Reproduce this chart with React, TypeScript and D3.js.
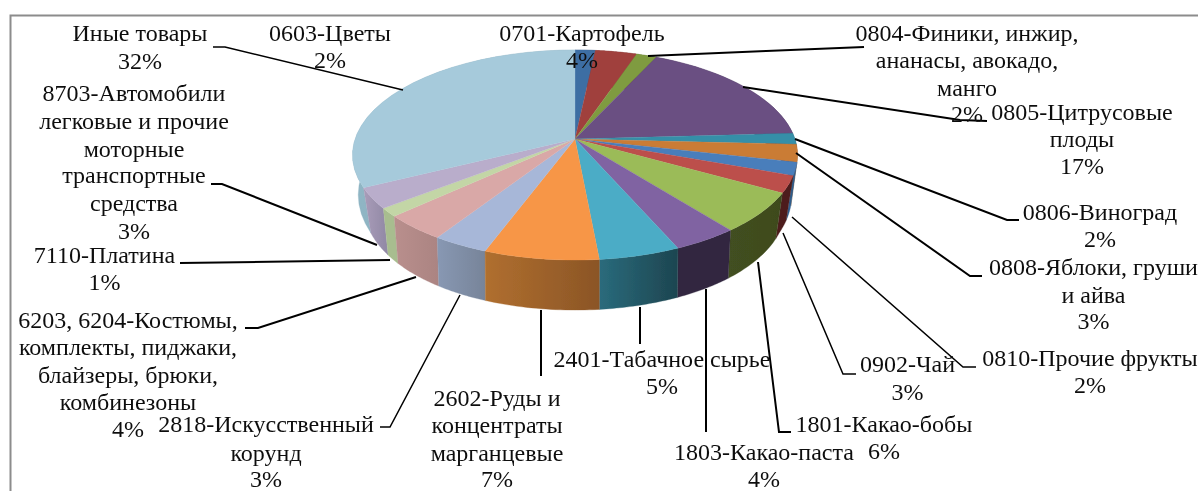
import React from "react";
import * as d3 from "d3";

const categories = ["0603-Цветы","0701-Картофель","0804-Финики","0805-Цитрусовые плоды","0806-Виноград","0808-Яблоки","0810-Прочие фрукты","0902-Чай","1801-Какао-бобы","1803-Какао-паста","2401-Табачное сырье","2602-Руды","2818-Искусственный корунд","6203, 6204-Костюмы","7110-Платина","8703-Автомобили","Иные товары"];
const values = [1.7,3.5,1.7,17.2,1.7,2.7,2,2.6,6.2,4.1,5.1,7.2,3.5,4,1.3,3.2,32.3];
const topColors = ["#3e6ea3","#a0403d","#7f9b3f","#6a4f82","#368fa8","#ca7b36","#4a7ebb","#bc4f4c","#9bbb59","#8064a2","#4bacc6","#f79646","#a7b7d8","#d9a8a7","#c3d6a6","#b9adcb","#a6cadb"];
const wallStart = ["#2a4a70","#6e2a29","#556b2b","#473559","#256070","#8a5526","#2f5d8c","#4e1f1f","#424f20","#30263f","#2a6b7c","#b06f2f","#8898b3","#b98f8d","#a8bd8f","#a99cb9","#8fb5c4"];
const wallEnd = ["#2a4a70","#6e2a29","#556b2b","#473559","#256070","#8a5526","#2f5d8c","#4e1f1f","#3e4a1e","#30263f","#1d4550","#8b5526","#778499","#ab8482","#a8bd8f","#9088a4","#8fb0bd"];

const labelLines = [
  ["0603-Цветы","2%"],["0701-Картофель","4%"],["0804-Финики, инжир,","ананасы, авокадо,","манго","2%"],
  ["0805-Цитрусовые","плоды","17%"],["0806-Виноград","2%"],["0808-Яблоки, груши","и айва","3%"],
  ["0810-Прочие фрукты","2%"],["0902-Чай","3%"],["1801-Какао-бобы","6%"],["1803-Какао-паста","4%"],
  ["2401-Табачное сырье","5%"],["2602-Руды и","концентраты","марганцевые","7%"],["2818-Искусственный","корунд","3%"],
  ["6203, 6204-Костюмы,","комплекты, пиджаки,","блайзеры, брюки,","комбинезоны","4%"],["7110-Платина","1%"],
  ["8703-Автомобили","легковые и прочие","моторные","транспортные","средства","3%"],["Иные товары","32%"],
];
const labelCx = [330,582,967,1082,1100,1093.5,1090,907.5,884,764,662,497,266,128,104.5,134,140];
const labelBaselines = [
  [41,68],[41,68],[41,68,96,122],[120,147,174],[220,247],[275,303,329],[366,393],[372,400],[432,459],[460,487],
  [367,394],[406,433,461,487],[432,461,487],[328,355,383,410,437],[263,290],[101,129,157,183,211,239],[41,69],
];
const leaders: [number,number][][] = [
  [],[],[[648,56],[864,47]],[[743,87],[960,120],[987,121]],[[795,139],[1007,220],[1019,220]],[[796,153],[970,276],[982,276]],
  [[792,217],[963,367],[976,367]],[[783,233],[843,374],[856,374]],[[758,262],[779,432],[791,432]],[[706,289],[706,432]],
  [[640,307],[640,344]],[[541,310],[541,376]],[[460,295],[390,427],[380,427]],[[416,277],[258,328],[245,328]],
  [[390,260],[180,263]],[[377,245],[222,184],[211,184]],[[403,90],[225,47],[213,47]],
];
const leaderWidths = [0,0,2,2,2,2,1.5,1.5,2,2,2,2,1.5,2,2,2,1.5];

const W = 1198, H = 491;
const cx = 575, cy = 139, B = 219.9, A = 102.6, k = 0.1524, depth = 42.4;

const xScale = d3.scaleLinear().domain([-1, 1]).range([cx - B, cx + B]);
const yScale = d3.scaleLinear().domain([-1, 1]).range([cy - A, cy + A]);
const taper = d3.scaleLinear().domain([-1, -0.2, 0.44, 0.7, 1]).range([0.985, 0.985, 0.965, 0.98, 1]);
const proj = (a: number, lower: boolean): [number, number] => {
  const u = Math.sin(a), v = -Math.cos(a), w = 1 - k * v;
  const s = lower ? taper(v) : 1;
  const x = xScale((u / w) * s);
  const y = yScale(v / w) + (lower ? depth / w : 0);
  return [x, y];
};
const pieGen = d3.pie<number>().sort(null).startAngle(0).endAngle(2 * Math.PI);
const arcs = pieGen(values);
const line = d3.line();
const samples = (a0: number, a1: number) => d3.range(0, 25).map((i) => a0 + ((a1 - a0) * i) / 24);
const topPath = (a0: number, a1: number) =>
  line([[cx, cy], ...samples(a0, a1).map((a) => proj(a, false))])! + "Z";
const wallPath = (a0: number, a1: number) =>
  line([...samples(a0, a1).map((a) => proj(a, false)), ...samples(a0, a1).reverse().map((a) => proj(a, true))])! + "Z";
const order = arcs.map((_, i) => i).sort((p, q) => {
  const m = (d: any) => -Math.cos((d.startAngle + d.endAngle) / 2);
  return m(arcs[p]) - m(arcs[q]);
});

export default function App() {
  return (
    <svg width={W} height={H} style={{ position: "absolute", left: 0, top: 0, background: "#fff" }}>
      <defs>
        {arcs.map((_, i) => (
          <linearGradient key={i} id={`w${i}`} x1="0" x2="1" y1="0" y2="0">
            <stop offset="0" stopColor={wallStart[i]} />
            <stop offset="1" stopColor={wallEnd[i]} />
          </linearGradient>
        ))}
        <filter id="soft" x="-5%" y="-5%" width="110%" height="110%"><feGaussianBlur stdDeviation="0.35" /></filter>
      </defs>
      <path d={`M10.5 491V15.5H${W}`} fill="none" stroke="#8c8c8c" strokeWidth={2} />
      <g filter="url(#soft)">
        {order.map((i) => (
          <path key={i} d={wallPath(arcs[i].startAngle, arcs[i].endAngle)} fill={`url(#w${i})`} stroke={`url(#w${i})`} strokeWidth={0.3} />
        ))}
        {arcs.map((d, i) => (
          <path key={i} d={topPath(d.startAngle, d.endAngle)} fill={topColors[i]} stroke={topColors[i]} strokeWidth={0.3}>
            <title>{categories[i]}</title>
          </path>
        ))}
        {leaders.map((pts, i) =>
          pts.length ? <path key={i} d={line(pts)!} fill="none" stroke="#000" strokeWidth={leaderWidths[i]} /> : null
        )}
        <g fontFamily="'Liberation Serif', serif" fontSize={24} fill="#111" textAnchor="middle">
          {labelLines.map((ls, i) =>
            ls.map((t, j) => (
              <text key={`${i}-${j}`} x={labelCx[i]} y={labelBaselines[i][j]}>{t}</text>
            ))
          )}
        </g>
      </g>
    </svg>
  );
}
